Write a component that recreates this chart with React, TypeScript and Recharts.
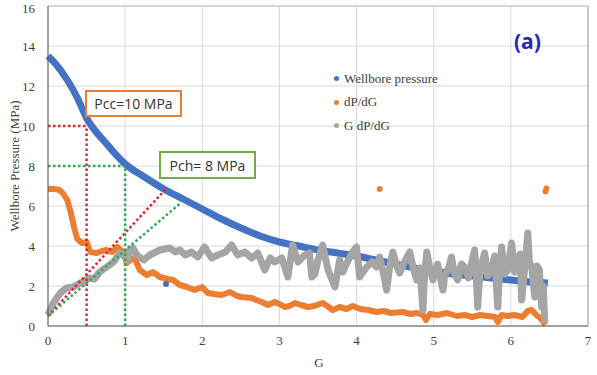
import {
  ComposedChart,
  Line,
  Scatter,
  XAxis,
  YAxis,
  CartesianGrid,
  ReferenceLine,
} from "recharts";

const gTicks = [0, 1, 2, 3, 4, 5, 6, 7];
const pTicks = [0, 2, 4, 6, 8, 10, 12, 14, 16];

// [G, value]
const wellbore: [number, number][] = [
  [0, 13.5], [0.1, 13.1], [0.25, 12.3], [0.375, 11.45], [0.5, 10.4], [0.75, 9.15],
  [1, 8.1], [1.25, 7.45], [1.5, 6.85], [1.75, 6.35], [2, 5.85], [2.25, 5.35],
  [2.5, 4.9], [2.75, 4.5], [3, 4.2], [3.25, 4.0], [3.5, 3.8], [3.75, 3.65],
  [4, 3.5], [4.25, 3.3], [4.5, 3.1], [4.75, 2.9], [5, 2.75], [5.25, 2.6],
  [5.5, 2.5], [5.75, 2.4], [6, 2.3], [6.25, 2.2], [6.48, 2.15],
];
const wellboreOutliers: [number, number][] = [[1.53, 2.1]];

const dpdg: [number, number][] = [
  [0, 6.85], [0.08, 6.85], [0.15, 6.8], [0.2, 6.6], [0.25, 6.3], [0.3, 5.6],
  [0.34, 4.9], [0.38, 4.35], [0.44, 4.15], [0.5, 4.2], [0.55, 3.7], [0.63, 3.65],
  [0.7, 3.75], [0.76, 3.8], [0.83, 3.7], [0.9, 3.95], [0.97, 3.7], [1.02, 3.15],
  [1.07, 3.3], [1.12, 3.4], [1.19, 2.8], [1.28, 2.55], [1.36, 2.7], [1.45, 2.45],
  [1.55, 2.35], [1.62, 2.3], [1.71, 2.05], [1.8, 1.95], [1.9, 1.8], [2.0, 1.95],
  [2.07, 1.65], [2.15, 1.6], [2.25, 1.55], [2.36, 1.7], [2.45, 1.5], [2.51, 1.45],
  [2.64, 1.4], [2.7, 1.3], [2.77, 1.2], [2.85, 1.05], [2.94, 1.2], [3.0, 1.1],
  [3.07, 0.95], [3.13, 1.0], [3.2, 1.15], [3.28, 1.05], [3.37, 0.95], [3.45, 1.0],
  [3.56, 1.15], [3.62, 1.0], [3.69, 0.8], [3.78, 0.95], [3.87, 0.85], [3.95, 1.0],
  [4.05, 0.85], [4.15, 0.8], [4.26, 0.7], [4.35, 0.75], [4.45, 0.65], [4.6, 0.7],
  [4.7, 0.6], [4.78, 0.65], [4.86, 0.55], [4.9, 0.3], [4.95, 0.6], [5.05, 0.55],
  [5.17, 0.65], [5.3, 0.5], [5.4, 0.55], [5.5, 0.45], [5.6, 0.55], [5.7, 0.5],
  [5.8, 0.45], [5.83, 0.2], [5.88, 0.55], [5.95, 0.5], [6.05, 0.55], [6.15, 0.45],
  [6.22, 0.75], [6.27, 0.8], [6.33, 0.55], [6.38, 0.4], [6.42, 0.2], [6.45, 0.05],
];
const dpdgOutliers: [number, number][] = [[4.3, 6.85], [6.45, 6.72], [6.46, 6.88]];

const gdpdg: [number, number][] = [
  [0, 0.55], [0.07, 1.15], [0.16, 1.65], [0.24, 1.9], [0.33, 1.95], [0.44, 2.2],
  [0.54, 2.4], [0.6, 2.35], [0.67, 2.7], [0.76, 2.95], [0.85, 3.2], [0.93, 3.65],
  [1.0, 3.45], [1.03, 3.3], [1.06, 3.8], [1.1, 3.9], [1.15, 3.55], [1.24, 3.3],
  [1.32, 3.55], [1.45, 3.8], [1.58, 3.9], [1.65, 3.7], [1.71, 3.8], [1.78, 3.55],
  [1.86, 3.7], [1.94, 3.45], [2.03, 3.95], [2.12, 3.4], [2.2, 3.55], [2.3, 3.7],
  [2.38, 4.05], [2.46, 3.55], [2.55, 3.7], [2.64, 3.4], [2.72, 3.65], [2.81, 2.8],
  [2.88, 3.4], [2.94, 3.2], [3.03, 3.4], [3.11, 2.45], [3.17, 4.05], [3.24, 3.2],
  [3.33, 3.55], [3.39, 3.65], [3.42, 2.45], [3.46, 2.6], [3.5, 3.3], [3.56, 4.05],
  [3.63, 2.8], [3.72, 1.95], [3.78, 3.3], [3.82, 2.7], [3.88, 3.2], [3.95, 3.7],
  [4.0, 3.95], [4.04, 2.45], [4.13, 2.95], [4.2, 3.2], [4.26, 2.95], [4.3, 3.45],
  [4.35, 2.6], [4.39, 1.8], [4.43, 3.0], [4.47, 3.7], [4.52, 3.0], [4.56, 2.65],
  [4.62, 3.2], [4.69, 3.7], [4.74, 2.8], [4.78, 2.3], [4.82, 2.9], [4.86, 0.8],
  [4.88, 2.5], [4.91, 3.7], [4.95, 2.9], [4.99, 2.3], [5.05, 3.1], [5.12, 1.8],
  [5.14, 2.45], [5.2, 3.0], [5.23, 3.45], [5.27, 2.6], [5.31, 2.3], [5.36, 3.1],
  [5.4, 2.95], [5.45, 2.4], [5.5, 3.3], [5.53, 3.8], [5.55, 2.6], [5.57, 0.95],
  [5.6, 2.8], [5.66, 3.65], [5.7, 2.5], [5.75, 2.8], [5.79, 3.5], [5.83, 0.95],
  [5.85, 2.5], [5.88, 3.95], [5.92, 2.6], [5.96, 2.8], [6.01, 4.15], [6.05, 2.7],
  [6.09, 2.95], [6.12, 3.6], [6.14, 1.3], [6.17, 2.5], [6.22, 4.65], [6.24, 3.2],
  [6.27, 2.95], [6.31, 1.45], [6.34, 3.0], [6.37, 2.8], [6.4, 0.95], [6.42, 2.0],
  [6.44, 0.15],
];

// guide lines: closure pressure construction
const pccGuides: [number, number][][] = [
  [[0, 10], [0.5, 10]],
  [[0.5, 0], [0.5, 10]],
  [[0, 0.5], [1.54, 6.9]],
];
const pchGuides: [number, number][][] = [
  [[0, 8], [1, 8]],
  [[1, 0], [1, 8]],
  [[0, 0.5], [1.72, 6.15]],
];

const toXY = (pts: [number, number][]) => pts.map(([x, y]) => ({ x, y }));

const BLUE = "#4472C4";
const ORANGE = "#ED7D31";
const GRAY = "#A5A5A5";
const RED = "#E3262D";
const GREEN = "#34A852";
const SERIF = "Liberation Serif, Times New Roman, serif";
const SANS = "Open Sans, Liberation Sans, sans-serif";

const legendItems = [
  { name: "Wellbore pressure", color: BLUE },
  { name: "dP/dG", color: ORANGE },
  { name: "G dP/dG", color: GRAY },
];

const smallDot = (color: string) => (p: any) => <circle cx={p.cx} cy={p.cy} r={3} fill={color} />;

export default function App() {
  return (
    <div style={{ position: "absolute", left: 0, top: 0, width: 597, height: 375, background: "#fff", fontFamily: SERIF }}>
      <ComposedChart width={597} height={375} margin={{ top: 6, right: 9, bottom: 19, left: 8 }} style={{ fontFamily: SERIF }}>
        <CartesianGrid stroke="#d9d9d9" />
        <XAxis
          type="number"
          dataKey="x"
          domain={[0, 7]}
          ticks={gTicks}
          tickLine={false}
          tickSize={0}
          tickMargin={10}
          height={30}
          stroke="#595959"
          tick={{ fontFamily: SERIF, fontSize: 13, fill: "#404040" }}
        />
        <YAxis
          type="number"
          dataKey="y"
          domain={[0, 16]}
          ticks={pTicks}
          tickLine={false}
          tickSize={0}
          tickMargin={13}
          width={40}
          stroke="#595959"
          tick={{ fontFamily: SERIF, fontSize: 13, fill: "#404040" }}
        />
        <ReferenceLine x={7} stroke="#a6a6a6" />
        <ReferenceLine y={16} stroke="#bfbfbf" />
        <Line data={toXY(wellbore)} dataKey="y" type="monotone" stroke={BLUE} strokeWidth={7} dot={false} isAnimationActive={false} />
        <Scatter data={toXY(wellboreOutliers)} fill={BLUE} shape={smallDot(BLUE)} isAnimationActive={false} />
        <Line data={toXY(dpdg)} dataKey="y" type="linear" stroke={ORANGE} strokeWidth={6} strokeLinejoin="round" dot={false} isAnimationActive={false} />
        <Scatter data={toXY(dpdgOutliers)} fill={ORANGE} shape={smallDot(ORANGE)} isAnimationActive={false} />
        <Line data={toXY(gdpdg)} dataKey="y" type="linear" stroke={GRAY} strokeWidth={7} strokeLinejoin="round" dot={false} isAnimationActive={false} />
        {pccGuides.map((seg, i) => (
          <ReferenceLine
            key={"pcc" + i}
            segment={[{ x: seg[0][0], y: seg[0][1] }, { x: seg[1][0], y: seg[1][1] }]}
            stroke={RED}
            strokeWidth={2.5}
            strokeDasharray="2.5 2.5"
          />
        ))}
        {pchGuides.map((seg, i) => (
          <ReferenceLine
            key={"pch" + i}
            segment={[{ x: seg[0][0], y: seg[0][1] }, { x: seg[1][0], y: seg[1][1] }]}
            stroke={GREEN}
            strokeWidth={2.5}
            strokeDasharray="2.5 2.5"
          />
        ))}
        <text x={14} y={166} transform="rotate(-90 14 166)" textAnchor="middle" dominantBaseline="central" style={{ fontFamily: SERIF, fontSize: 13, fill: "#404040" }}>
          Wellbore Pressure (MPa)
        </text>
        <text x={319} y={362} textAnchor="middle" dominantBaseline="central" style={{ fontFamily: SERIF, fontSize: 13, fill: "#404040" }}>
          G
        </text>
      </ComposedChart>

      <div style={{ position: "absolute", left: 85, top: 90, width: 97, height: 27, boxSizing: "border-box", border: `2px solid ${ORANGE}`, background: "#fff", fontFamily: SANS, fontSize: 14, color: "#333", display: "flex", alignItems: "center", justifyContent: "center" }}>
        Pcc=10 MPa
      </div>
      <div style={{ position: "absolute", left: 159, top: 151, width: 97, height: 28, boxSizing: "border-box", border: "2px solid #70AD47", background: "#fff", fontFamily: SANS, fontSize: 14, color: "#333", display: "flex", alignItems: "center", justifyContent: "center" }}>
        Pch= 8 MPa
      </div>
      <div style={{ position: "absolute", left: 514, top: 26, fontFamily: SANS, fontWeight: 700, fontSize: 21, color: "#2228C4", lineHeight: "30px" }}>
        (a)
      </div>
      <div style={{ position: "absolute", left: 334, top: 67 }}>
        {legendItems.map((it) => (
          <div key={it.name} style={{ display: "flex", alignItems: "center", height: 23.5, fontFamily: SERIF, fontSize: 13, color: "#404040" }}>
            <span style={{ width: 5, height: 5, borderRadius: "50%", background: it.color, marginRight: 5 }} />
            {it.name}
          </div>
        ))}
      </div>
    </div>
  );
}
